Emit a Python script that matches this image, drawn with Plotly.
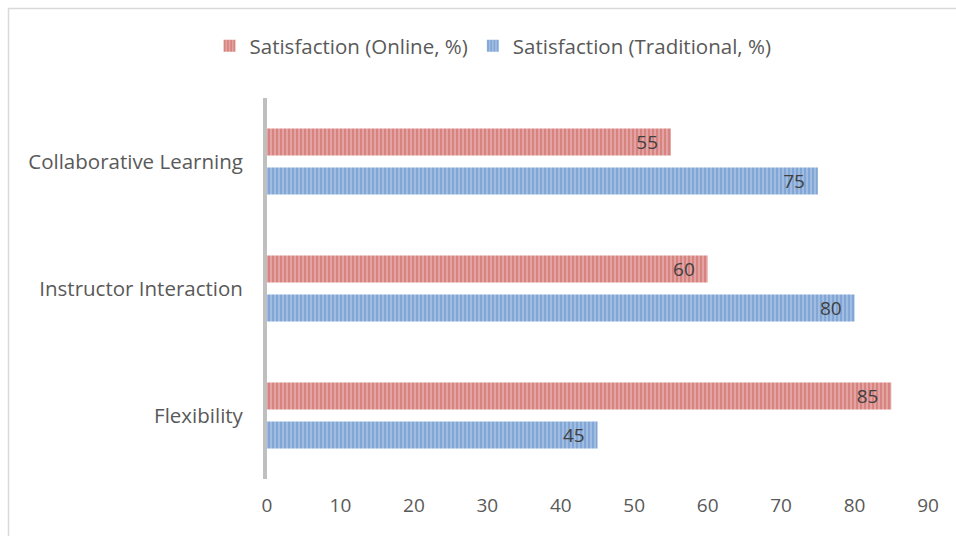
import plotly.graph_objects as go

categories = ["Flexibility", "Instructor Interaction", "Collaborative Learning"]
online = [85, 60, 55]
traditional = [45, 80, 75]
x_ticks = [0, 10, 20, 30, 40, 50, 60, 70, 80, 90]

FONT = "Open Sans"
L, R, T, B = 267, 28, 98, 57
W, H = 956, 536
pw, ph = W - L - R, H - T - B

fig = go.Figure()
fig.add_trace(go.Bar(
    y=categories, x=traditional, orientation="h", name="Satisfaction (Traditional, %)",
    marker=dict(color="#4F81BD", line=dict(width=0),
                pattern=dict(shape="|", fgcolor="#4F81C2", bgcolor="#B4CAE8", size=4, solidity=0.7)),
    text=[f"{v}  " for v in traditional], textposition="inside", insidetextanchor="end", textangle=0,
    constraintext="none", cliponaxis=False,
    textfont=dict(family=FONT, size=19, color="#404040"), legendrank=2,
))
fig.add_trace(go.Bar(
    y=categories, x=online, orientation="h", name="Satisfaction (Online, %)",
    marker=dict(color="#C0504D", line=dict(width=0),
                pattern=dict(shape="|", fgcolor="#C64F4C", bgcolor="#E8B8B7", size=4, solidity=0.7)),
    text=[f"{v}  " for v in online], textposition="inside", insidetextanchor="end", textangle=0,
    constraintext="none", cliponaxis=False,
    textfont=dict(family=FONT, size=19, color="#404040"), legendrank=1,
))

fig.update_layout(
    width=W, height=H,
    margin=dict(l=L, r=R, t=T, b=B),
    paper_bgcolor="white", plot_bgcolor="white",
    barmode="group", bargap=0.386, bargroupgap=0.308,
    font=dict(family=FONT, color="#595959"),
    legend=dict(orientation="h", x=(493 - L) / pw, xanchor="center", y=1 + (T - 46) / ph, yanchor="middle",
                font=dict(family=FONT, size=20.5, color="#595959"), itemwidth=30, traceorder="normal"),
    xaxis=dict(range=[0, 90], tickvals=x_ticks, showgrid=False, zeroline=False, showline=False,
               tickfont=dict(family=FONT, size=19, color="#595959"), ticks="", ticklabelstandoff=13),
    yaxis=dict(showgrid=False, zeroline=False, showline=True, linecolor="#BFBFBF", linewidth=4,
               ticks="", tickfont=dict(family=FONT, size=20.5, color="#595959"), ticklabelstandoff=16),
    uniformtext=dict(mode=False),
    shapes=[dict(type="rect", xref="paper", yref="paper",
                 x0=(8.5 - L) / pw, x1=(W + 5 - L) / pw,
                 y0=-(B + 5) / ph, y1=1 + (T - 8.5) / ph,
                 line=dict(color="#D9D9D9", width=1.5), layer="below")],
)

fig.write_html("out.html")
